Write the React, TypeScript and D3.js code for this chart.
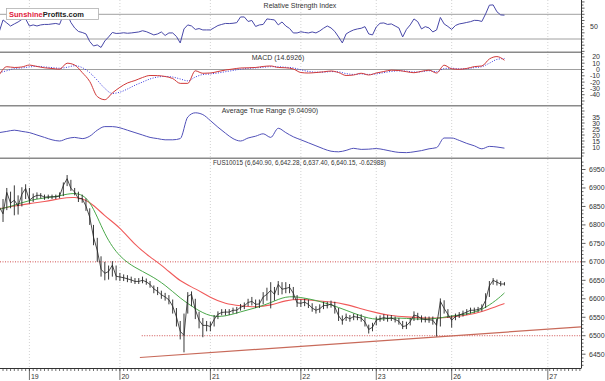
import React from "react";
import * as d3 from "d3";

const W = 605;
const H = 381;

// ---- time axis (hours since start of day "19") ----
const dayLabels = ["19", "20", "21", "22", "23", "26", "27"];
const dayHours = [0, 24, 48, 72, 92, 112, 137.5];
const hourDomain = [-7.8, 146.3];

// ---- price series, hourly from hour -8 ----
const priceStart = -8;
const closes = [
  6849, 6830, 6888, 6859, 6867, 6851, 6883, 6899, 6867, 6875, 6880, 6880, 6875, 6876, 6876, 6876, 6878,
  6907, 6925, 6899, 6889, 6871, 6871, 6851, 6821, 6767, 6731, 6680, 6669, 6674, 6691, 6661, 6659, 6657,
  6654, 6651, 6647, 6647, 6650, 6646, 6639, 6627, 6620, 6611, 6605, 6597, 6580, 6551, 6512, 6501, 6607,
  6612, 6571, 6542, 6528, 6528, 6525, 6544, 6558, 6563, 6564, 6564, 6569, 6569, 6577, 6581, 6590, 6593,
  6585, 6586, 6605, 6612, 6623, 6612, 6639, 6626, 6628, 6631, 6615, 6589, 6588, 6591, 6585, 6575, 6569,
  6573, 6582, 6582, 6586, 6578, 6554, 6540, 6551, 6546, 6552, 6550, 6548, 6537, 6517, 6523, 6542, 6546,
  6549, 6547, 6548, 6544, 6539, 6525, 6527, 6538, 6556, 6553, 6546, 6544, 6543, 6542, 6528, 6593, 6574,
  6558, 6542, 6552, 6556, 6560, 6564, 6569, 6569, 6571, 6575, 6596, 6635, 6650, 6645, 6640, 6640,
];
const highs = [
  6868, 6870, 6900, 6890, 6907, 6880, 6902, 6910, 6900, 6885, 6888, 6886, 6882, 6882, 6882, 6882, 6888,
  6915, 6935, 6922, 6900, 6890, 6882, 6872, 6845, 6800, 6765, 6715, 6700, 6690, 6702, 6690, 6670, 6666,
  6664, 6660, 6656, 6656, 6660, 6655, 6648, 6636, 6632, 6622, 6616, 6610, 6598, 6575, 6540, 6560, 6618,
  6620, 6600, 6565, 6548, 6540, 6538, 6556, 6566, 6572, 6572, 6572, 6576, 6578, 6586, 6590, 6600, 6605,
  6598, 6598, 6618, 6630, 6645, 6632, 6648, 6645, 6645, 6640, 6632, 6610, 6598, 6600, 6598, 6588, 6580,
  6585, 6592, 6592, 6595, 6592, 6575, 6555, 6560, 6556, 6560, 6558, 6558, 6550, 6530, 6535, 6552, 6555,
  6558, 6556, 6556, 6552, 6548, 6540, 6538, 6548, 6566, 6562, 6555, 6552, 6552, 6552, 6545, 6601, 6596,
  6572, 6555, 6560, 6564, 6568, 6572, 6576, 6576, 6578, 6585, 6615, 6648, 6656, 6652, 6648, 6645,
];
const lows = [
  6825, 6808, 6840, 6845, 6826, 6828, 6850, 6870, 6858, 6862, 6870, 6872, 6868, 6870, 6870, 6870, 6872,
  6878, 6905, 6892, 6880, 6862, 6860, 6838, 6800, 6745, 6700, 6660, 6650, 6652, 6660, 6650, 6648, 6648,
  6645, 6643, 6640, 6640, 6642, 6638, 6630, 6615, 6610, 6600, 6595, 6585, 6560, 6525, 6490, 6455, 6560,
  6580, 6545, 6520, 6496, 6512, 6512, 6525, 6545, 6555, 6555, 6556, 6560, 6560, 6568, 6572, 6580, 6582,
  6575, 6575, 6585, 6595, 6574, 6595, 6610, 6612, 6615, 6615, 6598, 6578, 6578, 6580, 6575, 6565, 6560,
  6562, 6572, 6574, 6576, 6560, 6540, 6530, 6540, 6538, 6542, 6542, 6538, 6525, 6506, 6512, 6528, 6538,
  6540, 6538, 6540, 6536, 6530, 6518, 6518, 6528, 6540, 6542, 6536, 6536, 6535, 6530, 6498, 6525, 6560,
  6548, 6522, 6542, 6548, 6552, 6556, 6560, 6562, 6564, 6566, 6575, 6605, 6638, 6636, 6634, 6636,
];

// ---- moving averages (read every 4 hours) ----
const maHours = [-8, -4, 0, 4, 8, 12, 16, 20, 24, 28, 32, 36, 40, 44, 48, 52, 56, 60, 64, 68, 72, 76, 80, 84, 88, 92, 96, 100, 104, 108, 112, 116, 120, 124, 126];
const maFast = [6842, 6853, 6867, 6873, 6878, 6889, 6875, 6769, 6712, 6684, 6664, 6638, 6601, 6573, 6551, 6552, 6565, 6575, 6589, 6608, 6604, 6596, 6584, 6569, 6553, 6542, 6549, 6547, 6544, 6546, 6554, 6558, 6569, 6597, 6616];
const maSlow = [6844, 6851, 6858, 6863, 6871, 6877, 6865, 6823, 6794, 6745, 6713, 6684, 6646, 6628, 6603, 6586, 6581, 6577, 6582, 6596, 6600, 6594, 6592, 6585, 6573, 6562, 6554, 6551, 6548, 6547, 6551, 6555, 6565, 6580, 6587];

// ---- levels ----
const resistanceLevel = 6700;
const supportLevel = 6500;
const supportStartHour = 29.8;
const trendHours = [29.3, 146.3];
const trendValues = [6441, 6524];

// ---- indicators ----
const rsiStart = -8; // hourly
const rsiValues = [
  41.9, 60.9, 56, 51, 54.4, 57.6, 61.7, 62.5, 51, 52.8, 51.1, 52.8, 53.6, 53.6, 54.4, 55.2, 53.6, 69, 70.6,
  56.8, 47.9, 42.2, 40.6, 38.2, 26, 18.7, 20.4, 16.3, 26.8, 33.3, 40.6, 39, 39.3, 40.1, 39.3, 39.8, 40.6,
  41.4, 43.4, 41.9, 39.3, 36.6, 38.2, 41.4, 35.7, 39.8, 39.8, 34.1, 23.6, 46.3, 52.8, 51.1, 45.5, 46.9,
  44.7, 44.7, 44.7, 48.2, 51.8, 53.6, 55.2, 55, 55.5, 56.5, 65.7, 65.7, 58.4, 60, 50.3, 52.8, 53.6, 62.5,
  61.7, 60.9, 52.8, 57.6, 51.1, 47.1, 39.8, 39.8, 41.7, 40.6, 39.8, 41.4, 39.8, 43, 47.4, 51.1, 47.9,
  42.2, 33.3, 23.6, 38.2, 41.9, 44.7, 46.3, 47.4, 50, 38.2, 36.6, 49.5, 55.5, 56, 53.6, 54.4, 51.1, 47.9,
  33.3, 45.5, 52.8, 62.5, 58.1, 46.3, 50, 47.9, 41.4, 44.7, 64.9, 54.4, 50.3, 45.5, 51.9, 54.4, 55.5,
  56.8, 58.1, 60.2, 60, 58.4, 70.6, 84.8, 85.2, 74.1, 69, 68.6,
];
const indStart = -8; // every 2 hours
const macdValues = [
  -8.7, 4.4, 3.2, 4, 7.1, 4.8, 2.7, 1.6, 0.5, 10, 7.1, -4.8, -19, -42.9, -47.9, -37.3, -28.3, -21.4, -17.5,
  -12.7, -9.5, -9.7, -11.1, -14.3, -22, -22, -2.1, -6, -5.6, -3.2, -0.8, 0.8, 2.4, 2.7, 3.2, 4.8, 5.6,
  3.2, 2.7, 0.8, -4.8, -5.6, -4.8, -3.7, -2.4, -4.8, -9.5, -8.7, -6, -8.7, -5.6, -3.2, -1.1, -1.6, -3.5,
  -5.1, -2.9, -1.1, -5.6, 6.8, 1.1, 0.3, 1.7, 4.6, 5.6, 16.7, 20.5, 14.7,
];
const signalValues = [
  -5, -2, 1.5, 2.5, 4, 5, 4, 3, 2, 3.5, 6, 3, -5, -17, -30, -38, -36, -31, -25, -20, -15, -12, -11, -12,
  -15, -18, -12, -8, -7, -5.5, -3.5, -1.5, 0.5, 1.8, 2.5, 3.5, 4.5, 4.3, 3.5, 2.5, -0.5, -3, -4.3, -4.2,
  -3.3, -3.8, -6.5, -7.8, -7, -7.8, -7, -5, -3, -2.1, -2.6, -4, -3.5, -2, -3.5, 1.5, 2, 1, 1.2, 3, 4.5,
  10, 16, 17.5,
];
const atrValues = [
  22, 23, 24, 23, 22, 20, 18, 16, 15, 17, 18, 17, 19, 24, 27, 27, 26, 24, 22, 20, 18, 17, 16, 16, 17, 35,
  38.5, 37, 32, 26.5, 21.5, 17, 15, 17.5, 19, 21, 18, 25.6, 22, 18.5, 16, 13.5, 11, 8.5, 6.5, 6, 7.2, 8.9,
  8, 8.2, 8.7, 7.8, 6.5, 5.5, 5.3, 6, 7, 8.5, 9.5, 17.5, 17.5, 15.5, 13, 11, 8.5, 10.5, 10, 9.04,
];

// ---- axis ticks ----
const priceLabels = [6450, 6500, 6550, 6600, 6650, 6700, 6750, 6800, 6850, 6900, 6950];
const rsiLabels = [50];
const macdLabels = [20, 10, 0, -10, -20, -30, -40];
const atrLabels = [35, 30, 25, 20, 15, 10];

const titles = {
  rsi: "Relative Strength Index",
  macd: "MACD (14.6926)",
  atr: "Average True Range (9.04090)",
  price: "FUS10015 (6,640.90, 6,642.28, 6,637.40, 6,640.15, -0.62988)",
};

const FONT = "'Liberation Sans', Arial, sans-serif";
const AXIS_X = 581.5;

export default function App() {
  const x = d3.scaleLinear().domain(hourDomain).range([0, 581]);

  const yRsi = d3.scaleLinear().domain([30, 70]).range([39, 14.3]);
  const yMacd = d3.scaleLinear().domain([0, 20]).range([69.5, 56.9]);
  const yAtr = d3.scaleLinear().domain([10, 35]).range([147, 117]);
  const yP = d3.scaleLinear().domain([6450, 6950]).range([354.2, 169.5]);

  const panels = {
    rsi: [0, 51.5],
    macd: [53, 105],
    atr: [106.5, 158],
    price: [158.5, 368],
  };

  const hourly = (start: number, step: number) => (_: number, i: number) => start + i * step;

  const lineH = (vals: number[], hrs: (v: number, i: number) => number, ys: d3.ScaleLinear<number, number>, curve = d3.curveLinear) =>
    d3
      .line<number>()
      .x((v, i) => x(hrs(v, i)))
      .y((v) => ys(v))
      .curve(curve)(vals) || "";

  const rsiPath = lineH(rsiValues, hourly(rsiStart, 1), yRsi);
  const macdPath = lineH(macdValues, hourly(indStart, 2), yMacd, d3.curveMonotoneX);
  const sigPath = lineH(signalValues, hourly(indStart, 2), yMacd, d3.curveMonotoneX);
  const atrPath = lineH(atrValues, hourly(indStart, 2), yAtr, d3.curveMonotoneX);
  const closePath = lineH(closes, hourly(priceStart, 1), yP);
  const fastPath = lineH(maFast, (_, i) => maHours[i], yP, d3.curveBasis);
  const slowPath = lineH(maSlow, (_, i) => maHours[i], yP, d3.curveBasis);

  const clip = (id: string, p: number[]) => (
    <clipPath id={id} key={id}>
      <rect x={0} y={p[0]} width={581} height={p[1] - p[0]} />
    </clipPath>
  );

  const hourTicks = d3.range(Math.ceil(hourDomain[0]), Math.floor(hourDomain[1]) + 1);

  const rightTicks = (ys: d3.ScaleLinear<number, number>, from: number, to: number, step: number, p: number[]) =>
    d3.range(from, to + step / 2, step).filter((v) => {
      const yy = ys(v);
      return yy >= p[0] && yy <= p[1];
    });

  const textStyle = { fontFamily: FONT, fontSize: 7, fill: "#333" } as const;

  return (
    <svg width={W} height={H} style={{ position: "absolute", left: 0, top: 0, background: "#fff" }}>
      <defs>
        {clip("c-rsi", panels.rsi)}
        {clip("c-macd", panels.macd)}
        {clip("c-atr", panels.atr)}
        {clip("c-price", panels.price)}
      </defs>
      <rect x={0} y={0} width={W} height={H} fill="#fff" />

      {dayHours.map((h) => (
        <line key={"vg" + h} x1={x(h)} x2={x(h)} y1={0} y2={368} stroke="#c8c8c8" strokeWidth={0.8} strokeDasharray="1,2" />
      ))}

      {[70, 30].map((v) => (
        <line key={"rsi" + v} x1={0} x2={AXIS_X} y1={yRsi(v)} y2={yRsi(v)} stroke="#a0a0a0" strokeWidth={1} />
      ))}
      <path d={rsiPath} fill="none" stroke="#4848a8" strokeWidth={1} clipPath="url(#c-rsi)" />
      <text x={300} y={8} textAnchor="middle" style={textStyle}>{titles.rsi}</text>

      <line x1={0} x2={AXIS_X} y1={yMacd(0)} y2={yMacd(0)} stroke="#a0a0a0" strokeWidth={1} />
      <path d={sigPath} fill="none" stroke="#3a3ae0" strokeWidth={1} strokeDasharray="1,1.5" clipPath="url(#c-macd)" />
      <path d={macdPath} fill="none" stroke="#d03838" strokeWidth={1} clipPath="url(#c-macd)" />
      <text x={278} y={60} textAnchor="middle" style={textStyle}>{titles.macd}</text>

      <path d={atrPath} fill="none" stroke="#5050b8" strokeWidth={1} clipPath="url(#c-atr)" />
      <text x={270} y={113} textAnchor="middle" style={textStyle}>{titles.atr}</text>

      <g clipPath="url(#c-price)">
        <line x1={0} x2={AXIS_X} y1={yP(resistanceLevel)} y2={yP(resistanceLevel)} stroke="#d05050" strokeWidth={1} strokeDasharray="1,1.5" />
        <line x1={x(supportStartHour)} x2={AXIS_X} y1={yP(supportLevel)} y2={yP(supportLevel)} stroke="#d05050" strokeWidth={1} strokeDasharray="1,1.5" />
        <line x1={x(trendHours[0])} x2={x(trendHours[1])} y1={yP(trendValues[0])} y2={yP(trendValues[1])} stroke="#c86a5a" strokeWidth={1.2} />
        <path d={slowPath} fill="none" stroke="#f05a5a" strokeWidth={1.1} />
        <path d={fastPath} fill="none" stroke="#4aa84a" strokeWidth={1} />
        {closes.map((c, i) => {
          const xx = x(priceStart + i);
          return <line key={"b" + i} x1={xx} x2={xx} y1={yP(highs[i])} y2={yP(lows[i])} stroke="#222" strokeWidth={0.9} />;
        })}
        <path d={closePath} fill="none" stroke="#222" strokeWidth={0.8} />
      </g>
      <text x={213} y={165} style={{ ...textStyle, fontSize: 6.3 }}>{titles.price}</text>

      {[52.2, 105.7, 158.2].map((yy) => (
        <line key={"sep" + yy} x1={0} x2={AXIS_X} y1={yy} y2={yy} stroke="#8a8a8a" strokeWidth={1.6} />
      ))}

      <line x1={AXIS_X} x2={AXIS_X} y1={0} y2={368} stroke="#333" strokeWidth={1} />
      {rightTicks(yRsi, 10, 90, 5, panels.rsi).map((v) => (
        <line key={"rt" + v} x1={AXIS_X} x2={AXIS_X + (v % 10 === 0 ? 3 : 2)} y1={yRsi(v)} y2={yRsi(v)} stroke="#333" strokeWidth={0.8} />
      ))}
      {rsiLabels.map((v) => (
        <text key={"rl" + v} x={590} y={yRsi(v) + 2.5} style={textStyle}>{v}</text>
      ))}
      {rightTicks(yMacd, -60, 30, 5, panels.macd).map((v) => (
        <line key={"mt" + v} x1={AXIS_X} x2={AXIS_X + (v % 10 === 0 ? 3 : 2)} y1={yMacd(v)} y2={yMacd(v)} stroke="#333" strokeWidth={0.8} />
      ))}
      {macdLabels.map((v) => (
        <text key={"ml" + v} x={600} y={yMacd(v) + 2.5} textAnchor="end" style={textStyle}>{v}</text>
      ))}
      {rightTicks(yAtr, 0, 45, 2.5, panels.atr).map((v) => (
        <line key={"at" + v} x1={AXIS_X} x2={AXIS_X + (v % 5 === 0 ? 3 : 2)} y1={yAtr(v)} y2={yAtr(v)} stroke="#333" strokeWidth={0.8} />
      ))}
      {atrLabels.map((v) => (
        <text key={"al" + v} x={600} y={yAtr(v) + 2.5} textAnchor="end" style={textStyle}>{v}</text>
      ))}
      {rightTicks(yP, 6410, 6980, 10, panels.price).map((v) => (
        <line key={"pt" + v} x1={AXIS_X} x2={AXIS_X + (v % 50 === 0 ? 4 : 2)} y1={yP(v)} y2={yP(v)} stroke="#333" strokeWidth={0.8} />
      ))}
      {priceLabels.map((v) => (
        <text key={"pl" + v} x={589} y={yP(v) + 2.5} style={textStyle}>{v}</text>
      ))}

      <line x1={0} x2={AXIS_X} y1={368.5} y2={368.5} stroke="#333" strokeWidth={1} />
      {hourTicks.map((h) => (
        <line key={"ht" + h} x1={x(h)} x2={x(h)} y1={368.5} y2={371} stroke="#333" strokeWidth={0.7} />
      ))}
      {dayHours.map((h, i) => (
        <g key={"dl" + h}>
          <line x1={x(h)} x2={x(h)} y1={368.5} y2={380} stroke="#333" strokeWidth={0.7} />
          <text x={x(h) + 1.5} y={379} style={textStyle}>{dayLabels[i]}</text>
        </g>
      ))}

      <rect x={6.5} y={8.5} width={92} height={11} fill="#fff" stroke="#b0b0b0" strokeWidth={0.8} />
      <text x={9} y={17} style={{ fontFamily: FONT, fontSize: 7.5, fontWeight: "bold" }}>
        <tspan fill="#e0203c">Sunshine</tspan>
        <tspan fill="#222">Profits.com</tspan>
      </text>
    </svg>
  );
}
